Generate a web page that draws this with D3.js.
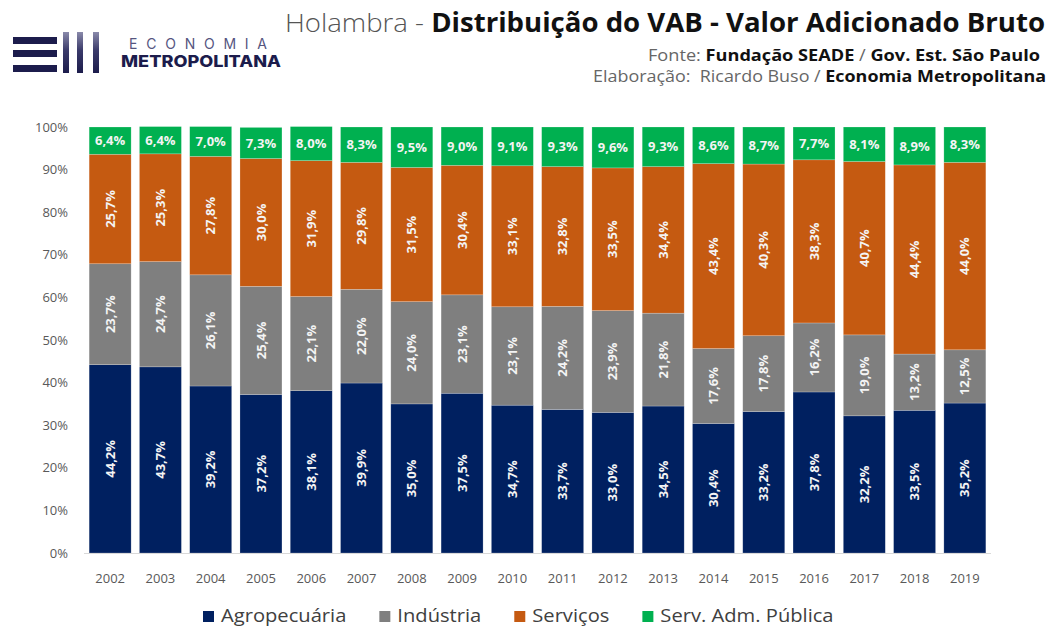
<!DOCTYPE html>
<html>
<head>
<meta charset="utf-8">
<script src="https://cdn.jsdelivr.net/npm/d3@7"></script>
<style>
body{margin:0;background:#fff;}
svg{display:block;font-family:"Open Sans",sans-serif;}
</style>
</head>
<body>
<div id="chart"></div>
<script>
var years = ['2002','2003','2004','2005','2006','2007','2008','2009','2010','2011','2012','2013','2014','2015','2016','2017','2018','2019'];
var agropecuaria = [44.2,43.7,39.2,37.2,38.1,39.9,35.0,37.5,34.7,33.7,33.0,34.5,30.4,33.2,37.8,32.2,33.5,35.2];
var industria = [23.7,24.7,26.1,25.4,22.1,22.0,24.0,23.1,23.1,24.2,23.9,21.8,17.6,17.8,16.2,19.0,13.2,12.5];
var servicos = [25.7,25.3,27.8,30.0,31.9,29.8,31.5,30.4,33.1,32.8,33.5,34.4,43.4,40.3,38.3,40.7,44.4,44.0];
var admPublica = [6.4,6.4,7.0,7.3,8.0,8.3,9.5,9.0,9.1,9.3,9.6,9.3,8.6,8.7,7.7,8.1,8.9,8.3];
var seriesNames = ['Agropecuária','Indústria','Serviços','Serv. Adm. Pública'];
var yTicks = [0,10,20,30,40,50,60,70,80,90,100];

var width = 1053, height = 628;
var colors = ['#002060','#7f7f7f','#c55a11','#00b050'];

var svg = d3.select('#chart').append('svg')
    .attr('width', width)
    .attr('height', height);

// logo
var logo = svg.append('g').attr('class','logo');
var grad = svg.append('defs').append('linearGradient')
    .attr('id','vbar').attr('x1',0).attr('y1',0).attr('x2',0).attr('y2',1);
grad.append('stop').attr('offset','0%').attr('stop-color','#8a8aaa');
grad.append('stop').attr('offset','45%').attr('stop-color','#3a3a6a');
grad.append('stop').attr('offset','100%').attr('stop-color','#1c1c4c');
[37,50,65].forEach(function(y){
    logo.append('rect').attr('x',13).attr('y',y).attr('width',44).attr('height',7).attr('fill','#1c1c4c');
});
[63,77,93].forEach(function(x){
    logo.append('rect').attr('x',x).attr('y',32).attr('width',6).attr('height',41).attr('fill','url(#vbar)');
});
logo.append('text')
    .attr('x',129).attr('y',49)
    .attr('textLength',138).attr('lengthAdjust','spacing')
    .style('font-size','14px').style('fill','#55557f').style('font-family','Inter, sans-serif')
    .text('ECONOMIA');
logo.append('text')
    .attr('x',121).attr('y',67)
    .attr('textLength',160).attr('lengthAdjust','spacingAndGlyphs')
    .style('font-size','16px').style('font-weight','800').style('fill','#1c1c4c').style('font-family','Inter, sans-serif')
    .text('METROPOLITANA');

// titles
var title = svg.append('text')
    .attr('x',1045).attr('y',32)
    .attr('text-anchor','end')
    .attr('textLength',760).attr('lengthAdjust','spacingAndGlyphs')
    .style('font-size','26px').style('fill','#111');
title.append('tspan').style('font-weight','300').style('fill','#555').text('Holambra - ');
title.append('tspan').style('font-weight','700').text('Distribuição do VAB - Valor Adicionado Bruto');

var fonte = svg.append('text')
    .attr('x',1040).attr('y',61)
    .attr('text-anchor','end')
    .attr('textLength',392).attr('lengthAdjust','spacingAndGlyphs')
    .style('font-size','16px').style('fill','#111');
fonte.append('tspan').style('fill','#666').text('Fonte: ');
fonte.append('tspan').style('font-weight','700').text('Fundação SEADE');
fonte.append('tspan').style('fill','#666').text(' / ');
fonte.append('tspan').style('font-weight','700').text('Gov. Est. São Paulo');

var elab = svg.append('text')
    .attr('x',1046).attr('y',82)
    .attr('text-anchor','end')
    .attr('textLength',453).attr('lengthAdjust','spacingAndGlyphs')
    .style('font-size','16px').style('fill','#111').style('white-space','pre');
elab.append('tspan').style('fill','#666').text('Elaboração:  Ricardo Buso / ');
elab.append('tspan').style('font-weight','700').text('Economia Metropolitana');

// scales
var x = d3.scaleBand()
    .domain(years)
    .range([85, 990])
    .paddingInner(0.165)
    .paddingOuter(0.0825);

var y = d3.scaleLinear()
    .domain([0, 100])
    .range([553, 127]);

// y axis labels
svg.append('g')
    .selectAll('text')
    .data(yTicks)
    .enter()
    .append('text')
    .attr('x', 68)
    .attr('y', function(d){ return y(d); })
    .attr('dy','0.35em')
    .attr('text-anchor','end')
    .style('font-size','13px')
    .style('fill','#595959')
    .text(function(d){ return d + '%'; });

// stacked data
var rows = years.map(function(yr, i){
    return {year: yr, a: agropecuaria[i], b: industria[i], c: servicos[i], d: admPublica[i]};
});
var keys = ['a','b','c','d'];
var stacked = d3.stack().keys(keys)(rows);

var layers = svg.append('g')
    .selectAll('g')
    .data(stacked)
    .enter()
    .append('g')
    .attr('fill', function(d, i){ return colors[i]; });

layers.selectAll('rect')
    .data(function(d){ return d; })
    .enter()
    .append('rect')
    .attr('x', function(d){ return x(d.data.year); })
    .attr('y', function(d){ return y(d[1]); })
    .attr('width', x.bandwidth())
    .attr('height', function(d){ return y(d[0]) - y(d[1]); })
    .attr('stroke', 'rgba(255,255,255,0.35)')
    .attr('stroke-width', 0.6);

// value labels
var fmt = function(v){ return v.toFixed(1).replace('.', ',') + '%'; };
stacked.forEach(function(layer, li){
    var g = svg.append('g');
    layer.forEach(function(d){
        var cx = x(d.data.year) + x.bandwidth() / 2;
        var cy = (y(d[0]) + y(d[1])) / 2;
        var v = d[1] - d[0];
        var t = g.append('text')
            .attr('text-anchor','middle')
            .attr('dy','0.35em')
            .style('font-size','13px')
            .style('font-weight','700')
            .style('fill','#f4f4f4')
            .text(fmt(v));
        if(li === 3){
            t.attr('x', cx).attr('y', cy);
        }else{
            t.attr('transform','translate(' + cx + ',' + cy + ') rotate(-90)');
        }
    });
});

// baseline
svg.append('line')
    .attr('x1', 84).attr('x2', 991)
    .attr('y1', y(0) + 0.5).attr('y2', y(0) + 0.5)
    .attr('stroke', '#d9d9d9')
    .attr('stroke-width', 1);

// x labels
svg.append('g')
    .selectAll('text')
    .data(years)
    .enter()
    .append('text')
    .attr('x', function(d){ return x(d) + x.bandwidth() / 2; })
    .attr('y', 578)
    .attr('dy','0.35em')
    .attr('text-anchor','middle')
    .style('font-size','13px')
    .style('fill','#595959')
    .text(function(d){ return d; });

// legend
var legend = svg.append('g').attr('class','legend');
var offset = 203;
seriesNames.forEach(function(name, i){
    legend.append('rect')
        .attr('x', offset).attr('y', 611)
        .attr('width', 11).attr('height', 11)
        .attr('fill', colors[i]);
    var t = legend.append('text')
        .attr('x', offset + 18).attr('y', 622)
        .style('font-size','19px')
        .style('fill','#404040')
        .text(name);
    var w = t.node().getComputedTextLength();
    t.attr('textLength', w * 1.06).attr('lengthAdjust','spacingAndGlyphs');
    offset += 18 + w * 1.06 + 33;
});
</script>
</body>
</html>
